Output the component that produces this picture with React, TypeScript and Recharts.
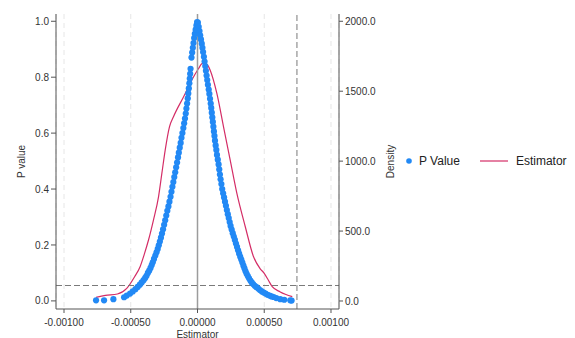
import React from 'react';
import {
  ComposedChart,
  Scatter,
  Line,
  XAxis,
  YAxis,
  CartesianGrid,
  ReferenceLine,
  Legend,
} from 'recharts';

const xTicks = [-0.001, -0.0005, 0, 0.0005, 0.001];
const pTicks = [0, 0.2, 0.4, 0.6, 0.8, 1.0];
const densityTicks = [0, 500, 1000, 1500, 2000];

// P value points, left branch: [estimator, p]
const pointsLeft: [number, number][] = [
  [-7.6e-4, 0.002], [-7.0e-4, 0.002], [-6.3e-4, 0.006], [-5.5e-4, 0.013],
  [-5.3e-4, 0.019], [-5.05e-4, 0.026], [-4.85e-4, 0.034], [-4.65e-4, 0.042],
  [-4.48e-4, 0.05], [-4.32e-4, 0.058], [-4.18e-4, 0.066], [-4.04e-4, 0.074],
  [-3.92e-4, 0.082], [-3.82e-4, 0.09], [-3.72e-4, 0.1], [-3.62e-4, 0.108],
  [-3.52e-4, 0.118], [-3.43e-4, 0.128], [-3.35e-4, 0.138], [-3.26e-4, 0.15],
  [-3.16e-4, 0.162], [-3.07e-4, 0.174], [-2.98e-4, 0.186], [-2.9e-4, 0.199],
  [-2.82e-4, 0.212], [-2.74e-4, 0.226], [-2.66e-4, 0.241], [-2.58e-4, 0.256],
  [-2.5e-4, 0.272], [-2.42e-4, 0.288], [-2.34e-4, 0.305], [-2.26e-4, 0.322],
  [-2.18e-4, 0.338], [-2.1e-4, 0.355], [-2.02e-4, 0.372], [-1.95e-4, 0.39],
  [-1.88e-4, 0.408], [-1.81e-4, 0.425], [-1.74e-4, 0.443], [-1.67e-4, 0.46],
  [-1.6e-4, 0.478], [-1.53e-4, 0.495], [-1.46e-4, 0.513], [-1.4e-4, 0.53],
  [-1.33e-4, 0.548], [-1.26e-4, 0.565], [-1.2e-4, 0.583], [-1.13e-4, 0.6],
  [-1.06e-4, 0.618], [-1.0e-4, 0.635], [-0.94e-4, 0.652], [-0.88e-4, 0.67],
  [-0.83e-4, 0.688], [-0.78e-4, 0.706], [-0.73e-4, 0.724], [-0.69e-4, 0.742],
  [-0.65e-4, 0.76], [-0.61e-4, 0.778], [-0.58e-4, 0.795], [-0.55e-4, 0.812],
  [-0.52e-4, 0.83], [-0.45e-4, 0.87], [-0.4e-4, 0.888], [-0.35e-4, 0.905],
  [-0.3e-4, 0.922], [-0.25e-4, 0.94], [-0.2e-4, 0.955], [-0.14e-4, 0.97],
  [-0.08e-4, 0.985], [-0.03e-4, 0.997],
];

// P value points, right branch: [estimator, p]
const pointsRight: [number, number][] = [
  [0.03e-4, 0.995], [0.09e-4, 0.98], [0.15e-4, 0.965], [0.2e-4, 0.95],
  [0.26e-4, 0.935], [0.32e-4, 0.92], [0.37e-4, 0.905], [0.42e-4, 0.89],
  [0.48e-4, 0.873], [0.53e-4, 0.856], [0.58e-4, 0.84], [0.63e-4, 0.823],
  [0.68e-4, 0.806], [0.73e-4, 0.79], [0.78e-4, 0.773], [0.84e-4, 0.756],
  [0.89e-4, 0.74], [0.94e-4, 0.723], [0.99e-4, 0.706], [1.03e-4, 0.69],
  [1.07e-4, 0.673], [1.11e-4, 0.656], [1.15e-4, 0.64], [1.19e-4, 0.623],
  [1.23e-4, 0.606], [1.27e-4, 0.59], [1.31e-4, 0.573], [1.36e-4, 0.556],
  [1.41e-4, 0.54], [1.46e-4, 0.522], [1.52e-4, 0.505], [1.58e-4, 0.488],
  [1.63e-4, 0.47], [1.68e-4, 0.452], [1.73e-4, 0.435], [1.79e-4, 0.418],
  [1.85e-4, 0.4], [1.92e-4, 0.385], [1.99e-4, 0.37], [2.06e-4, 0.355],
  [2.13e-4, 0.34], [2.2e-4, 0.325], [2.27e-4, 0.31], [2.34e-4, 0.296],
  [2.41e-4, 0.282], [2.48e-4, 0.268], [2.56e-4, 0.255], [2.64e-4, 0.242],
  [2.72e-4, 0.23], [2.8e-4, 0.218], [2.88e-4, 0.205], [2.96e-4, 0.193],
  [3.04e-4, 0.181], [3.12e-4, 0.169], [3.2e-4, 0.158], [3.28e-4, 0.148],
  [3.36e-4, 0.137], [3.44e-4, 0.126], [3.52e-4, 0.116], [3.6e-4, 0.106],
  [3.68e-4, 0.097], [3.77e-4, 0.089], [3.86e-4, 0.081], [3.96e-4, 0.073],
  [4.06e-4, 0.066], [4.17e-4, 0.06], [4.29e-4, 0.054], [4.42e-4, 0.049],
  [4.55e-4, 0.044], [4.68e-4, 0.039], [4.82e-4, 0.034], [4.96e-4, 0.03],
  [5.1e-4, 0.026], [5.25e-4, 0.022], [5.4e-4, 0.019], [5.55e-4, 0.016],
  [5.7e-4, 0.014], [5.9e-4, 0.01], [6.2e-4, 0.006], [6.5e-4, 0.004],
  [6.95e-4, 0.002], [7.05e-4, 0.001],
];

// Kernel density of the estimator: [estimator, density]
const densityPoints: [number, number][] = [
  [-7.6e-4, 26], [-6.9e-4, 40], [-6.0e-4, 50], [-5.3e-4, 90], [-4.7e-4, 175],
  [-4.3e-4, 245], [-4.0e-4, 330], [-3.67e-4, 436], [-3.3e-4, 579],
  [-2.92e-4, 745], [-2.67e-4, 912], [-2.42e-4, 1079], [-2.1e-4, 1245],
  [-1.8e-4, 1317], [-1.05e-4, 1459], [-0.3e-4, 1602], [0.1e-4, 1665],
  [0.3e-4, 1695], [0.5e-4, 1703], [0.75e-4, 1688], [0.95e-4, 1650],
  [1.45e-4, 1484], [1.95e-4, 1245], [2.45e-4, 1007], [2.95e-4, 769],
  [3.58e-4, 531], [4.2e-4, 316], [4.7e-4, 230], [5.0e-4, 198], [5.3e-4, 150],
  [5.6e-4, 102], [6.2e-4, 65], [7.1e-4, 31],
];

const pThreshold = 0.055;
const estimatorCutoff = 0.000745;

const scatterData = [...pointsLeft, ...pointsRight].map(([x, p]) => ({ x, p }));
const densityData = densityPoints.map(([x, d]) => ({ x, d }));

const FONT = '"Liberation Sans", Arial, sans-serif';
const BLUE = '#2289f5';
const RED = '#d42d66';
const TEXT = '#333';
const AXIS = '#555';

const Dot = (props: any) => {
  const { cx, cy } = props;
  if (cx == null || cy == null) return null;
  return <circle cx={cx} cy={cy} r={3.1} fill={BLUE} />;
};

const LegendContent = () => (
  <div
    style={{
      display: 'flex',
      alignItems: 'center',
      fontFamily: FONT,
      fontSize: 12,
      color: '#222',
      whiteSpace: 'nowrap',
    }}
  >
    <svg width={8} height={8} style={{ display: 'block' }}>
      <circle cx={4} cy={4} r={2.8} fill={BLUE} />
    </svg>
    <span style={{ marginLeft: 6 }}>P Value</span>
    <svg width={28} height={4} style={{ display: 'block', marginLeft: 20 }}>
      <line x1={0} y1={2} x2={28} y2={2} stroke={RED} strokeWidth={1.2} />
    </svg>
    <span style={{ marginLeft: 8 }}>Estimator</span>
  </div>
);

const LeftTitle = (props: any) => {
  const vb = props.viewBox || {};
  const x = (vb.x ?? 0) + 25;
  const y = (vb.y ?? 0) + (vb.height ?? 0) / 2;
  return (
    <text
      x={x}
      y={y}
      transform={`rotate(-90, ${x}, ${y})`}
      textAnchor="middle"
      fontFamily={FONT}
      fontSize={10}
      fill={TEXT}
    >
      P value
    </text>
  );
};

const RightTitle = (props: any) => {
  const vb = props.viewBox || {};
  const x = (vb.x ?? 0) + 55;
  const y = (vb.y ?? 0) + (vb.height ?? 0) / 2;
  return (
    <text
      x={x}
      y={y}
      transform={`rotate(-90, ${x}, ${y})`}
      textAnchor="middle"
      fontFamily={FONT}
      fontSize={10}
      fill={TEXT}
    >
      Density
    </text>
  );
};

const BottomTitle = (props: any) => {
  const vb = props.viewBox || {};
  const x = (vb.x ?? 0) + (vb.width ?? 0) / 2;
  const y = (vb.y ?? 0) + 28.5;
  return (
    <text x={x} y={y} textAnchor="middle" fontFamily={FONT} fontSize={10} fill={TEXT}>
      Estimator
    </text>
  );
};

const tickStyle = { fontFamily: FONT, fontSize: 10, fill: TEXT };

export default function App() {
  return (
    <div style={{ position: 'absolute', left: 0, top: 0, width: 575, height: 338, background: '#fff' }}>
      <ComposedChart
        width={575}
        height={338}
        margin={{ top: 14, right: 180, bottom: 0, left: 0 }}
        style={{ background: '#fff' }}
      >
        <CartesianGrid
          horizontal={false}
          vertical={true}
          stroke="#e6e6e6"
          strokeDasharray="5 4"
          yAxisId="left"
        />
        <XAxis
          dataKey="x"
          type="number"
          domain={[-0.00106, 0.00106]}
          ticks={xTicks}
          allowDataOverflow
          tickFormatter={(v: number) => v.toFixed(5)}
          tick={tickStyle}
          tickSize={4}
          tickMargin={6}
          height={29}
          stroke={AXIS}
          label={<BottomTitle />}
        />
        <YAxis
          yAxisId="left"
          orientation="left"
          type="number"
          domain={[-0.029, 1.026]}
          ticks={pTicks}
          allowDataOverflow
          tickFormatter={(v: number) => v.toFixed(1)}
          tick={tickStyle}
          tickSize={5}
          tickMargin={2}
          width={56}
          stroke={AXIS}
          label={<LeftTitle />}
        />
        <YAxis
          yAxisId="right"
          orientation="right"
          type="number"
          domain={[-57.2, 2052]}
          ticks={densityTicks}
          allowDataOverflow
          tickFormatter={(v: number) => v.toFixed(1)}
          tick={tickStyle}
          tickSize={4}
          tickMargin={2}
          width={56}
          stroke={AXIS}
          label={<RightTitle />}
        />
        <Scatter
          name="P Value"
          data={scatterData}
          dataKey="p"
          yAxisId="left"
          fill={BLUE}
          shape={<Dot />}
          isAnimationActive={false}
        />
        <Line
          name="Estimator"
          data={densityData}
          dataKey="d"
          yAxisId="right"
          type="monotone"
          stroke={RED}
          strokeWidth={1.2}
          dot={false}
          activeDot={false}
          isAnimationActive={false}
        />
        <ReferenceLine x={0} yAxisId="left" stroke="#9c9c9c" strokeWidth={1.5} />
        <ReferenceLine
          x={estimatorCutoff}
          yAxisId="left"
          stroke="#7a7a7a"
          strokeWidth={1}
          strokeDasharray="6 3"
        />
        <ReferenceLine
          y={pThreshold}
          yAxisId="left"
          stroke="#7a7a7a"
          strokeWidth={1}
          strokeDasharray="6 3"
        />
        <Legend
          layout="horizontal"
          verticalAlign="middle"
          align="center"
          content={<LegendContent />}
          wrapperStyle={{ position: 'absolute', left: 405, top: 154, width: 170 }}
        />
      </ComposedChart>
    </div>
  );
}
